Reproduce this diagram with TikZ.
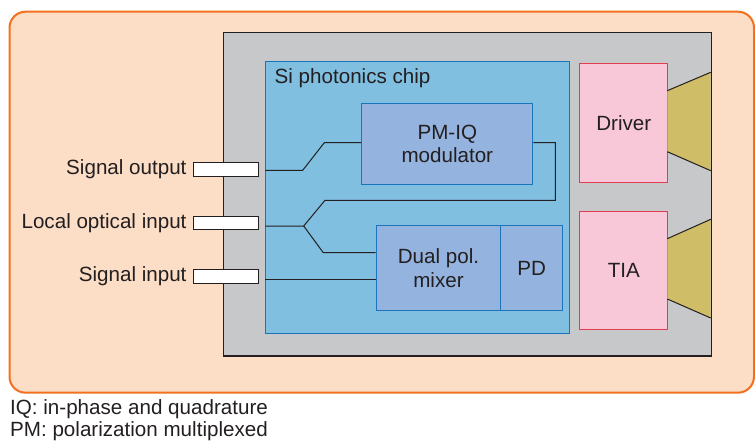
\documentclass[tikz,border=0pt]{standalone}
\usepackage{fontspec}
\setmainfont{Liberation Sans}
\definecolor{txt}{HTML}{231F20}
\definecolor{orfill}{HTML}{FCDDC6}
\definecolor{ordraw}{HTML}{F37021}
\definecolor{grayfill}{HTML}{C7C8CA}
\definecolor{chipfill}{HTML}{80BFE0}
\definecolor{chipdraw}{HTML}{1B75BC}
\definecolor{modfill}{HTML}{94B3DE}
\definecolor{pinkfill}{HTML}{F8C8D8}
\definecolor{pinkdraw}{HTML}{DF3F4F}
\definecolor{olivefill}{HTML}{CFBD67}
\tikzset{
  lbl/.style={text=txt, font=\fontsize{20.6}{23.5}\selectfont, inner sep=0pt},
  blk/.style={lbl, align=center, anchor=north west, line width=1pt},
  graybox/.style={blk, fill=grayfill, draw=txt},
  chipbox/.style={blk, fill=chipfill, draw=chipdraw},
  modbox/.style={blk, fill=modfill, draw=chipdraw},
  pinkbox/.style={blk, fill=pinkfill, draw=pinkdraw},
  portbox/.style={fill=white, draw=txt, line width=1pt, minimum width=64.6pt, minimum height=13.5pt, inner sep=0pt},
  wg/.style={draw=txt, line width=1pt},
}
\begin{document}
\begin{tikzpicture}[x=1pt,y=-1pt]
\useasboundingbox (0,0) rectangle (755,441);
\draw[fill=orfill, draw=ordraw, line width=2pt, rounded corners=16pt] (9.5,11.7) rectangle (754,392.7);
\node[graybox, minimum width=487.4pt, minimum height=322.7pt] (gray) at (223.3,32.3) {};
\node[chipbox, minimum width=303.4pt, minimum height=272.6pt] (chip) at (265.3,60.7) {};
\node[lbl, anchor=base west] (chiplbl) at (274.5,84) {Si photonics chip};
\node[modbox, minimum width=171pt, minimum height=81.3pt] (mod) at (361.3,102.7) {PM-IQ\\modulator};
\node[modbox, minimum width=124.6pt, minimum height=84.7pt] (mix) at (375.7,225.3) {Dual pol.\\mixer};
\node[modbox, minimum width=61.7pt, minimum height=84.7pt] (pd) at (500.3,225.3) {PD};
\node[pinkbox, minimum width=88pt, minimum height=118.4pt] (drv) at (579.3,63.3) {Driver};
\node[pinkbox, minimum width=88pt, minimum height=118pt] (tia) at (579.3,210.7) {TIA};
% trapezoids
\coordinate (d1) at (667.3,90.7); \coordinate (d2) at (710.7,72.3);
\coordinate (d3) at (710.7,170.7); \coordinate (d4) at (667.3,151.7);
\coordinate (t1) at (667.3,238.7); \coordinate (t2) at (710.7,219.3);
\coordinate (t3) at (710.7,318); \coordinate (t4) at (667.3,299);
\fill[olivefill] (d1) -- (d2) -- (d3) -- (d4) -- cycle;
\fill[olivefill] (t1) -- (t2) -- (t3) -- (t4) -- cycle;
\draw[wg] (d1) -- (d2) (d4) -- (d3) (t1) -- (t2) (t4) -- (t3);
\draw[draw=txt, line width=1pt] (gray.north west) rectangle (gray.south east);
% ports
\node[portbox] (so) at (226,169.3) {};
\node[portbox] (lo) at (226,222.9) {};
\node[portbox] (si) at (226,276.3) {};
\node[lbl, anchor=east] (solbl) at (186.7,169.3) {Signal output};
\node[lbl, anchor=east] (lolbl) at (186.7,222.9) {Local optical input};
\node[lbl, anchor=east] (silbl) at (186.7,276.3) {Signal input};
% waveguides
\coordinate (soA) at (302.7,170.3);
\coordinate (soB) at (324.3,142.7);
\coordinate (split) at (303.7,226);
\coordinate (up) at (325,200.3);
\coordinate (dn) at (323.3,252.7);
\coordinate (lpA) at (555.3,142.7);
\coordinate (lpB) at (555.3,200.3);
\draw[wg] (chip.west |- soA) -- (soA) -- (soB) -- (mod.west |- soB);
\draw[wg] (chip.west |- split) -- (split) -- (up) -- (lpB) -- (lpA) -- (mod.east |- lpA);
\draw[wg] (split) -- (dn) -- (mix.west |- dn);
\draw[wg] (chip.west |- 0,279.3) -- (mix.west |- 0,279.3);
% footnotes
\node[lbl, anchor=base west] (fn1) at (10,414.5) {IQ: in-phase and quadrature};
\node[lbl, anchor=base west] (fn2) at (10,436) {PM: polarization multiplexed};
\end{tikzpicture}
\end{document}
